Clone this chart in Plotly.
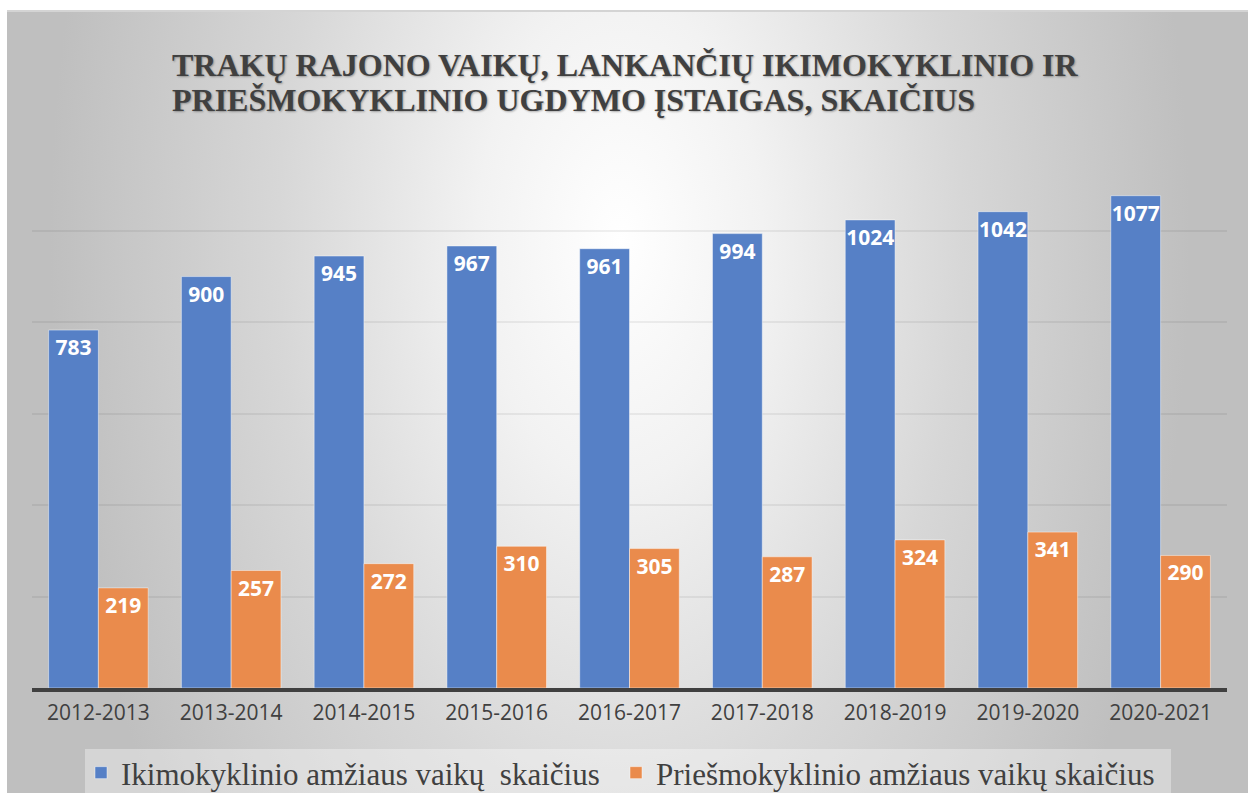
import base64
import plotly.graph_objects as go

# ---------------- data ----------------
years = ["2012-2013", "2013-2014", "2014-2015", "2015-2016", "2016-2017",
         "2017-2018", "2018-2019", "2019-2020", "2020-2021"]
ikimokyklinio = [783, 900, 945, 967, 961, 994, 1024, 1042, 1077]
priesmokyklinio = [219, 257, 272, 310, 305, 287, 324, 341, 290]
series_names = ["Ikimokyklinio amžiaus vaikų  skaičius",
                "Priešmokyklinio amžiaus vaikų skaičius"]
title_lines = ["TRAKŲ RAJONO VAIKŲ, LANKANČIŲ IKIMOKYKLINIO IR",
               "PRIEŠMOKYKLINIO UGDYMO ĮSTAIGAS, SKAIČIUS"]

# ---------------- layout geometry ----------------
W, H = 1254, 793
L, R, T, B = 32, 27, 139, 105
PW, PH = W - L - R, H - T - B


def px_x(x):
    return (x - L) / PW


def px_y(y):
    return (H - B - y) / PH


# background (radial gradient panel) as an svg image
bx0, by0, bx1, by1 = 7, 10, 1248, 793
bw, bh = bx1 - bx0, by1 - by0
cx, cy, r = 613, 230, 570
svg = f'''<svg xmlns="http://www.w3.org/2000/svg" width="{bw}" height="{bh}" viewBox="0 0 {bw} {bh}" preserveAspectRatio="none">
<defs><radialGradient id="g" gradientUnits="userSpaceOnUse" cx="{cx}" cy="{cy}" r="{r}"
 gradientTransform="translate({cx} {cy}) scale(1 1.7) translate({-cx} {-cy})">
<stop offset="0" stop-color="#ffffff"/>
<stop offset="0.25" stop-color="#f2f2f2"/>
<stop offset="0.6" stop-color="#d7d7d7"/>
<stop offset="1" stop-color="#bfbfbf"/>
</radialGradient></defs>
<rect x="0" y="0" width="{bw}" height="{bh}" fill="url(#g)"/>
<rect x="0" y="0" width="{bw}" height="2" fill="#d4d4d4"/>
</svg>'''
svg_uri = "data:image/svg+xml;base64," + base64.b64encode(svg.encode("utf-8")).decode("ascii")

BLUE = "#5680C6"
ORANGE = "#EA8B4C"

fig = go.Figure()
fig.add_trace(go.Bar(
    x=years, y=ikimokyklinio, name=series_names[0], legend="legend",
    marker=dict(color=BLUE, line=dict(color="rgba(255,255,255,0.45)", width=1)),
    text=ikimokyklinio, textposition="inside", insidetextanchor="end",
    constraintext="none", textangle=0,
    textfont=dict(family="Open Sans", size=21, color="white", weight="bold"),
    hoverinfo="skip",
))
fig.add_trace(go.Bar(
    x=years, y=priesmokyklinio, name=series_names[1], legend="legend2",
    marker=dict(color=ORANGE, line=dict(color="rgba(255,255,255,0.45)", width=1)),
    text=priesmokyklinio, textposition="inside", insidetextanchor="end",
    constraintext="none", textangle=0,
    textfont=dict(family="Open Sans", size=21, color="white", weight="bold"),
    hoverinfo="skip",
))

annotations = []
for i, line in enumerate(title_lines):
    annotations.append(dict(
        text=line, xref="paper", yref="paper",
        x=px_x(170), y=px_y(65 + 35 * i), xanchor="left", yanchor="middle",
        showarrow=False, align="left",
        font=dict(family="Liberation Serif", size=32, color="#404040", weight="bold",
                  shadow="1px 1px 2px rgba(0,0,0,0.3)"),
    ))

legend_font = dict(family="Liberation Serif", size=31, color="#404040")

fig.update_layout(
    width=W, height=H,
    margin=dict(l=L, r=R, t=T, b=B, autoexpand=False),
    paper_bgcolor="white",
    plot_bgcolor="rgba(0,0,0,0)",
    barmode="group", bargap=0.25, bargroupgap=0,
    annotations=annotations,
    images=[dict(
        source=svg_uri, xref="paper", yref="paper",
        x=px_x(bx0), y=px_y(by0), sizex=bw / PW, sizey=bh / PH,
        xanchor="left", yanchor="top", sizing="stretch", layer="below",
    )],
    shapes=[dict(
        type="rect", xref="paper", yref="paper", layer="below",
        x0=px_x(85), x1=px_x(1171), y0=px_y(795), y1=px_y(749),
        fillcolor="rgba(255,255,255,0.35)", line=dict(width=0),
    )],
    xaxis=dict(
        showline=True, linecolor="#404040", linewidth=4,
        ticks="", showgrid=False,
        tickfont=dict(family="Open Sans", size=21, color="#404040"),
        ticklabelstandoff=3,
    ),
    yaxis=dict(
        range=[0, 1201], dtick=200, showticklabels=False,
        showgrid=True, gridcolor="rgba(0,0,0,0.06)", gridwidth=2,
        zeroline=False, showline=False,
    ),
    legend=dict(
        orientation="h", x=px_x(81), y=px_y(746), xanchor="left", yanchor="top",
        bgcolor="rgba(0,0,0,0)", font=legend_font,
    ),
    legend2=dict(
        orientation="h", x=px_x(616), y=px_y(746), xanchor="left", yanchor="top",
        bgcolor="rgba(0,0,0,0)", font=legend_font,
    ),
    showlegend=True,
)

fig.write_html(
    "out.html",
    config={"displayModeBar": False},
    post_script="document.body.style.margin='0';document.body.style.overflow='hidden';",
)
